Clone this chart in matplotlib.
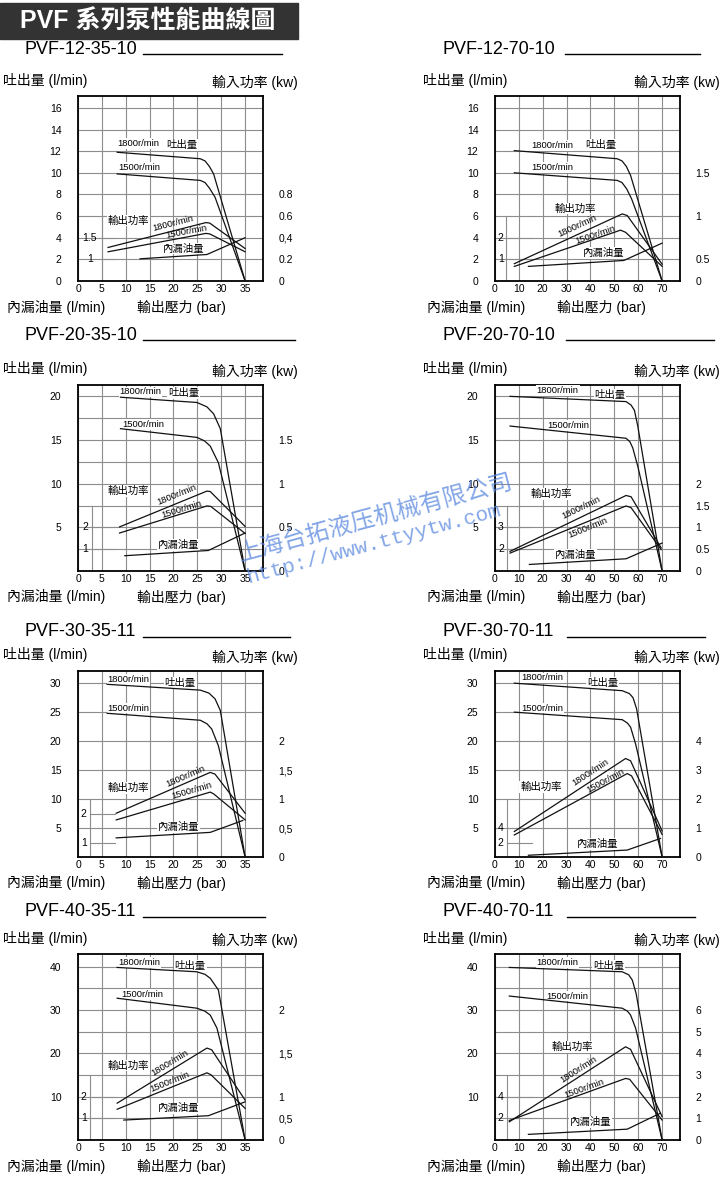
import numpy as np
import matplotlib.pyplot as plt
import matplotlib.patches as mpatches

plt.rcParams['font.family'] = ['Liberation Sans', 'Noto Sans CJK TC']

W, H = 724, 1178

titles = ['PVF-12-35-10', 'PVF-12-70-10', 'PVF-20-35-10', 'PVF-20-70-10',
          'PVF-30-35-11', 'PVF-30-70-11', 'PVF-40-35-11', 'PVF-40-70-11']

# pressure axis end (bar) and flow axis top (l/min)
p_max = [35, 70, 35, 70, 35, 70, 35, 70]
q_top = [17.1, 17.1, 21.3, 21.3, 32.1, 32.1, 42.9, 42.9]
q_grid = [2, 2, 2.5, 2.5, 5, 5, 5, 5]
q_ticks = [[0, 2, 4, 6, 8, 10, 12, 14, 16], [0, 2, 4, 6, 8, 10, 12, 14, 16],
           [5, 10, 15, 20], [5, 10, 15, 20],
           [5, 10, 15, 20, 25, 30], [5, 10, 15, 20, 25, 30],
           [10, 20, 30, 40], [10, 20, 30, 40]]

# input power (kw) labels, placed against the flow scale
kw_pos = [[0, 2, 4, 6, 8], [0, 2, 6, 10], [0, 5, 10, 15], [0, 2.5, 5, 7.5, 10],
          [0, 5, 10, 15, 20], [0, 5, 10, 15, 20], [0, 5, 10, 20, 30],
          [0, 5, 10, 15, 20, 25, 30]]
kw_labels = [['0', '0.2', '0,4', '0.6', '0.8'], ['0', '0.5', '1', '1.5'],
             ['0', '0.5', '1', '1.5'], ['0', '0.5', '1', '1.5', '2'],
             ['0', '0,5', '1', '1,5', '2'], ['0', '1', '2', '3', '4'],
             ['0', '0,5', '1', '1,5', '2'], ['0', '1', '2', '3', '4', '5', '6']]

# internal leakage (l/min) labels
leak_pos = [[2, 4], [2, 4], [2.5, 5], [2.5, 5], [2.5, 7.5], [2.5, 5], [5, 10], [5, 10]]
leak_labels = [['1', '1.5'], ['1', '2'], ['1', '2'], ['2', '3'],
               ['1', '2'], ['2', '4'], ['1', '2'], ['2', '4']]

# curves: (pressure bar, value on flow scale)
# PVF-12-35-10
m1_q1800 = [(8.2, 11.9), (25.6, 11.3), (26.6, 11.1), (27.5, 10.6), (28.4, 9.9), (35, 0)]
m1_q1500 = [(8.2, 9.9), (25.6, 9.3), (26.6, 9.1), (27.5, 8.6), (28.7, 7.75), (35, 0)]
m1_w1800 = [(6.3, 3.1), (26.8, 5.4), (27.6, 5.35), (35, 3.0)]
m1_w1500 = [(6.3, 2.7), (26.8, 4.4), (27.6, 4.35), (35, 2.7)]
m1_leak = [(13, 2.05), (27, 2.45), (35, 4.0)]
# PVF-12-70-10
m2_q1800 = [(8.1, 12.05), (51.2, 11.3), (53.2, 11.1), (55.0, 10.6), (56.8, 9.75), (70, 0)]
m2_q1500 = [(8.1, 10.0), (51.2, 9.3), (53.2, 9.1), (55.2, 8.5), (57.2, 7.6), (70, 0)]
m2_w1800 = [(8.1, 1.6), (53.3, 6.2), (55.4, 6.05), (70, 1.55)]
m2_w1500 = [(8.1, 1.35), (52.6, 4.7), (54.7, 4.5), (70, 1.35)]
m2_leak = [(14, 1.35), (54, 1.9), (70, 3.5)]
# PVF-20-35-10
m3_q1800 = [(8.9, 19.9), (24.9, 19.3), (27.0, 18.8), (28.4, 18.0), (29.8, 16.3), (35, 0)]
m3_q1500 = [(8.9, 16.3), (24.9, 15.3), (26.5, 14.9), (27.7, 14.3), (29.4, 12.4), (35, 0)]
m3_w1800 = [(8.7, 5.05), (27.0, 9.15), (27.7, 9.1), (35, 5.1)]
m3_w1500 = [(8.7, 4.35), (27.0, 7.45), (27.8, 7.4), (35, 4.3)]
m3_leak = [(9.8, 1.75), (27.3, 2.35), (35, 4.35)]
# PVF-20-70-10
m4_q1800 = [(6.3, 20.0), (54.9, 19.4), (57.0, 19.0), (58.4, 18.4), (59.8, 16.6), (70, 0)]
m4_q1500 = [(6.3, 16.6), (54.9, 15.2), (56.5, 14.8), (57.7, 14.1), (59.8, 12.0), (70, 0)]
m4_w1800 = [(6.3, 2.25), (54.9, 8.65), (57.0, 8.5), (69.6, 2.65)]
m4_w1500 = [(6.3, 2.05), (54.9, 7.45), (57.0, 7.25), (69.6, 2.45)]
m4_leak = [(14.4, 0.75), (54.9, 1.4), (70, 3.2)]
# PVF-30-35-11
m5_q1800 = [(6.1, 29.8), (25.6, 28.8), (27.4, 28.3), (28.7, 27.3), (29.8, 25.3), (35, 0)]
m5_q1500 = [(6.1, 24.8), (25.6, 23.6), (27.0, 23.0), (28.0, 22.1), (29.4, 19.2), (35, 0)]
m5_w1800 = [(8.0, 7.55), (27.7, 14.6), (28.7, 14.3), (35, 7.55)]
m5_w1500 = [(8.0, 6.4), (27.7, 11.2), (28.4, 10.9), (35, 6.4)]
m5_leak = [(8.0, 3.3), (27.7, 4.25), (34.5, 6.3)]
# PVF-30-70-11
m6_q1800 = [(8.1, 30.0), (53.3, 28.7), (56.3, 28.2), (57.8, 27.5), (59.3, 25.6), (70, 0)]
m6_q1500 = [(8.1, 25.0), (53.3, 23.7), (55.5, 23.1), (56.8, 22.4), (58.9, 19.5), (70, 0)]
m6_w1800 = [(8.1, 4.4), (54.7, 17.0), (56.8, 16.6), (70, 4.5)]
m6_w1500 = [(8.1, 3.8), (55.4, 14.4), (57.2, 14.0), (70, 3.9)]
m6_leak = [(14, 0.3), (55.4, 1.2), (69.3, 3.2)]
# PVF-40-35-11
m7_q1800 = [(8.2, 39.8), (24.9, 38.8), (26.6, 38.2), (27.7, 37.3), (29.4, 34.6), (35, 0)]
m7_q1500 = [(8.2, 32.7), (24.9, 30.4), (26.6, 29.7), (27.7, 28.8), (29.1, 25.8), (35, 0)]
m7_w1800 = [(8.2, 8.5), (27.0, 21.2), (28.0, 20.8), (35, 9.2)]
m7_w1500 = [(8.2, 7.1), (27.0, 15.5), (27.9, 15.0), (35, 7.3)]
m7_leak = [(9.6, 4.6), (27.3, 5.6), (35, 8.8)]
# PVF-40-70-11
m8_q1800 = [(6, 39.8), (53.3, 38.8), (56.0, 38.1), (57.5, 36.9), (59.1, 33.8), (70, 0)]
m8_q1500 = [(6, 33.2), (53.3, 30.4), (55.5, 29.7), (56.8, 28.8), (58.9, 25.8), (70, 0)]
m8_w1800 = [(6, 4.2), (54.7, 21.5), (56.8, 20.9), (70, 5.4)]
m8_w1500 = [(6, 4.5), (54.7, 14.2), (56.4, 14.0), (70, 4.6)]
m8_leak = [(14, 1.3), (55.4, 2.5), (69.3, 6.2)]

q1800 = [m1_q1800, m2_q1800, m3_q1800, m4_q1800, m5_q1800, m6_q1800, m7_q1800, m8_q1800]
q1500 = [m1_q1500, m2_q1500, m3_q1500, m4_q1500, m5_q1500, m6_q1500, m7_q1500, m8_q1500]
w1800 = [m1_w1800, m2_w1800, m3_w1800, m4_w1800, m5_w1800, m6_w1800, m7_w1800, m8_w1800]
w1500 = [m1_w1500, m2_w1500, m3_w1500, m4_w1500, m5_w1500, m6_w1500, m7_w1500, m8_w1500]
leak = [m1_leak, m2_leak, m3_leak, m4_leak, m5_leak, m6_leak, m7_leak, m8_leak]

# layout (pixels) and label spots (data coords)
col_x = [(78, 263), (495, 680)]
row_y = [(96, 281), (385, 571), (671, 857), (954, 1140)]
title_y = [49, 335, 632, 912]
title_line = [[(143, 282), (565, 700)], [(143, 295), (566, 714)],
              [(143, 290), (567, 705)], [(143, 265), (567, 695)]]
leak_x = [5, 4.8, 2.9, 5.0, 2.45, 4.9, 2.45, 4.9]
leak_top = [6, 6, 7.5, 7.5, 10, 10, 15, 15]
at_q1800 = [(8.2, 12.7), (15, 12.5), (8.7, 20.5), (17.5, 20.65), (6.2, 30.6), (10.9, 30.9), (8.5, 40.9), (17.4, 40.9)]
at_q = [(21.8, 12.6), (44.3, 12.6), (22.1, 20.4), (48.2, 20.2), (21.4, 30), (45, 30), (23.5, 40.2), (47.7, 40.2)]
at_q1500 = [(8.5, 10.5), (15, 10.5), (9.2, 16.8), (22, 16.7), (6.2, 25.7), (10.9, 25.7), (9, 33.5), (21.3, 33.2)]
at_w = [(10.6, 5.6), (33.8, 6.7), (10.6, 9.15), (23.5, 8.8), (10.6, 11.9), (19.2, 12.1), (10.6, 17.2), (32.4, 21.5)]
at_w1800 = [(20, 5.3), (34.5, 5.1), (20.7, 8.7), (36, 7.2), (22.5, 13.9), (40.1, 14.6), (19.3, 17.7), (35.2, 16.2)]
at_w1500 = [(22.8, 4.6), (42.2, 4.3), (21.8, 7.0), (38.8, 4.9), (23.8, 11.5), (46.3, 13.2), (19.3, 13.5), (37.3, 11.9)]
at_leak = [(22.1, 3.0), (45.6, 2.6), (21.1, 3.0), (33.7, 1.8), (21.1, 5.1), (42.9, 2.3), (21.1, 7.3), (40.1, 4.2)]

GRID = '#8c8c8c'
WHITE_BOX = dict(facecolor='white', edgecolor='none', pad=0.6)


def fx(px):
    return px / W


def fy(py):
    return 1 - py / H


fig = plt.figure(figsize=(W / 100, H / 100), dpi=100)

# header bar
fig.patches.append(mpatches.Rectangle((0, fy(39)), fx(298), fy(3) - fy(39),
                                      transform=fig.transFigure, color='#333333'))
fig.text(fx(20), fy(22), 'PVF 系列泵性能曲線圖', color='white', fontsize=18,
         fontweight='bold', va='center', ha='left')

for i in range(8):
    row, col = i // 2, i % 2
    x0, x1 = col_x[col]
    y0, y1 = row_y[row]
    ax = fig.add_axes([fx(x0), fy(y1), fx(x1 - x0), fy(y0) - fy(y1)])
    pm = p_max[i]
    ax.set_xlim(0, pm * 1.107)
    ax.set_ylim(0, q_top[i])
    ax.set_xticks(np.arange(0, pm + 1, pm // 7))
    ax.set_yticks(q_ticks[i])
    ax.set_yticks(np.arange(q_grid[i], q_top[i], q_grid[i]), minor=True)
    ax.grid(True, which='both', color=GRID, lw=0.8)
    ax.set_axisbelow(True)
    ax.tick_params(which='both', length=0)
    ax.tick_params(axis='y', pad=12, labelsize=7.5)
    ax.tick_params(axis='x', pad=2, labelsize=7.5)
    for s in ax.spines.values():
        s.set_linewidth(1.3)

    # leakage scale
    lx = leak_x[i]
    ax.plot([lx, lx], [0, leak_top[i]], color=GRID, lw=0.8)
    for pos, lab in zip(leak_pos[i], leak_labels[i]):
        ax.plot([lx, pm * 0.22], [pos, pos], color=GRID, lw=0.8)
        ax.text(lx / 2, pos, lab, fontsize=7.5, ha='center', va='center')

    for curve in (q1800[i], q1500[i], w1800[i], w1500[i], leak[i]):
        xs, ys = zip(*curve)
        ax.plot(xs, ys, color='#111111', lw=0.9, zorder=4)

    ax.text(*at_q1800[i], '1800r/min', fontsize=6.8, ha='left', va='center', bbox=WHITE_BOX)
    ax.text(*at_q1500[i], '1500r/min', fontsize=6.8, ha='left', va='center', bbox=WHITE_BOX)
    ax.text(*at_q[i], '吐出量', fontsize=7.5, ha='center', va='center', bbox=WHITE_BOX)
    ax.text(*at_w[i], '輸出功率', fontsize=7.5, ha='center', va='center', bbox=WHITE_BOX)
    ax.text(*at_leak[i], '內漏油量', fontsize=7.5, ha='center', va='center', bbox=WHITE_BOX)
    for curve, spot in ((w1800[i], at_w1800[i]), (w1500[i], at_w1500[i])):
        (xa, ya), (xb, yb) = curve[0], curve[1]
        ang = np.degrees(np.arctan2(yb - ya, xb - xa))
        lab = '1800r/min' if curve is w1800[i] else '1500r/min'
        ax.text(*spot, lab, fontsize=6.8, ha='center', va='center', rotation=ang,
                transform_rotates_text=True, rotation_mode='anchor')

    # input power scale on the right
    ax2 = ax.twinx()
    ax2.set_ylim(ax.get_ylim())
    ax2.set_yticks(kw_pos[i], kw_labels[i])
    ax2.tick_params(length=0, pad=11, labelsize=7.5)
    for s in ax2.spines.values():
        s.set_visible(False)

    # surrounding texts
    base = 3 if col == 0 else 423
    right = 298 if col == 0 else 720
    fig.text(fx(base), fy(y0 - 16), '吐出量 (l/min)', fontsize=10, ha='left', va='center')
    fig.text(fx(right), fy(y0 - 14), '輸入功率 (kw)', fontsize=10, ha='right', va='center')
    fig.text(fx(base + 4), fy(y1 + 26), '內漏油量 (l/min)', fontsize=10, ha='left', va='center')
    fig.text(fx(base + 134), fy(y1 + 26), '輸出壓力 (bar)', fontsize=10, ha='left', va='center')
    tx = 25 if col == 0 else 443
    fig.text(fx(tx), fy(title_y[row]), titles[i], fontsize=13, ha='left', va='center')
    lx0, lx1 = title_line[row][col]
    fig.add_artist(plt.Line2D([fx(lx0), fx(lx1)], [fy(title_y[row] + 5)] * 2,
                              color='black', lw=1.0))

# watermark
fig.text(fx(375), fy(518), '上海台拓液压机械有限公司', fontsize=17, color='#5a88e0',
         alpha=0.75, rotation=15, ha='center', va='center', rotation_mode='anchor',
         family=['Noto Sans CJK SC'])
fig.text(fx(373), fy(544), 'http://www.ttyytw.com', fontsize=15, color='#5a88e0',
         alpha=0.75, rotation=15, ha='center', va='center', rotation_mode='anchor',
         family=['Liberation Mono'])

fig.savefig('out.png', dpi=100)
